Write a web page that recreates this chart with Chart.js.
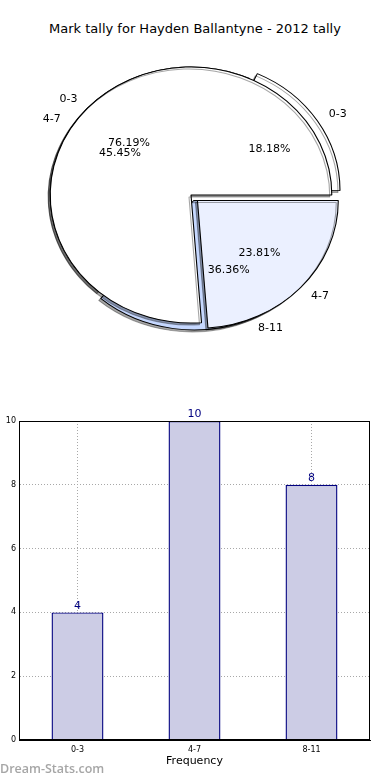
<!DOCTYPE html>
<html>
<head>
<meta charset="utf-8">
<script src="https://cdn.jsdelivr.net/npm/chart.js@4"></script>
<style>
body { margin: 0; background: #fff; }
#wrap { position: relative; width: 390px; height: 780px; overflow: hidden; font-family: 'DejaVu Sans', sans-serif; }
#title { position: absolute; left: 0; top: 21px; width: 390px; text-align: center; font-size: 13px; color: #000; }
.layer { position: absolute; left: 0; }
#mark { position: absolute; left: 0; top: 760px; font: 600 12.5px 'Open Sans', sans-serif; color: #a6a6a6; }
</style>
</head>
<body>
<div id="wrap">
  <div id="title">Mark tally for Hayden Ballantyne - 2012 tally</div>
  <canvas id="pieBack" class="layer" style="top:0" width="390" height="360"></canvas>
  <canvas id="pieFront" class="layer" style="top:0" width="390" height="360"></canvas>
  <canvas id="bars" class="layer" style="top:400px" width="390" height="380"></canvas>
  <div id="mark">Dream-Stats.com</div>
</div>
<script>
// two overlaid pies, as in the original image
var frontLabels = ['0-3', '4-7'];
var frontValues = [16, 5];
var backLabels = ['0-3', '4-7', '8-11'];
var backValues = [4, 10, 8];

var barLabels = ['0-3', '4-7', '8-11'];
var barValues = [4, 10, 8];

var SX = 1.1; // pie is drawn a bit wider than tall
var FONT = "'DejaVu Sans', sans-serif";

// chart.js goes clockwise from the top, the original goes the other way from 3 o'clock
function rev(a) { return a.slice().reverse(); }

var squash = {
    id: 'squash',
    beforeDatasetsDraw: function(chart) {
        var a = chart.getDatasetMeta(0).data[0];
        var c = chart.ctx;
        c.save();
        c.translate(a.x, a.y);
        c.scale(SX, 1);
        c.translate(-a.x, -a.y);
        c.shadowColor = 'rgba(0,0,0,0.35)';
        c.shadowOffsetX = -2;
        c.shadowOffsetY = 2;
    },
    afterDatasetsDraw: function(chart) {
        chart.ctx.restore();
    }
};

function pieText(chart, c) {
    var meta = chart.getDatasetMeta(0);
    var ds = chart.data.datasets[0];
    var total = ds.data.reduce(function(s, v) { return s + v; }, 0);
    c.save();
    c.font = '11px ' + FONT;
    c.fillStyle = '#000';
    c.textBaseline = 'middle';
    meta.data.forEach(function(arc, i) {
        var mid = (arc.startAngle + arc.endAngle) / 2;
        var t = (ds.offset[i] || 0) / 4;
        var r = arc.outerRadius;
        var cs = Math.cos(mid), sn = Math.sin(mid);
        var bx = arc.x + cs * t, by = arc.y + sn * t;
        var px = arc.x + (bx + cs * r * 0.6 - arc.x) * SX;
        var py = by + sn * r * 0.6;
        c.textAlign = 'center';
        c.fillText((ds.data[i] / total * 100).toFixed(2) + '%', px, py);
        var lx = arc.x + (bx + cs * r * 1.1 - arc.x) * SX;
        var ly = by + sn * r * 1.1;
        c.textAlign = cs >= 0 ? 'left' : 'right';
        c.fillText(chart.data.labels[i], lx, ly);
    });
    c.restore();
}

function pieOptions() {
    return {
        responsive: false,
        animation: false,
        devicePixelRatio: 1,
        rotation: 90,
        layout: { padding: { left: 46.5, right: 54.5, top: 50.5, bottom: 20.5 } },
        plugins: { legend: { display: false }, tooltip: { enabled: false } }
    };
}

var backChart = new Chart(document.getElementById('pieBack'), {
    type: 'pie',
    data: {
        labels: rev(backLabels),
        datasets: [{
            data: rev(backValues),
            backgroundColor: rev(['#ffffff', '#ffffff', '#c6d8ff']),
            borderColor: '#000',
            borderWidth: 1,
            offset: rev([32, 0, 24])
        }]
    },
    options: pieOptions(),
    plugins: [squash]
});

new Chart(document.getElementById('pieFront'), {
    type: 'pie',
    data: {
        labels: rev(frontLabels),
        datasets: [{
            data: rev(frontValues),
            backgroundColor: rev(['#ffffff', '#ebf0ff']),
            borderColor: '#000',
            borderWidth: 1,
            offset: rev([0, 32])
        }]
    },
    options: pieOptions(),
    plugins: [squash, {
        id: 'pieText',
        afterDraw: function(chart) {
            pieText(backChart, chart.ctx);
            pieText(chart, chart.ctx);
        }
    }]
});

var frame = {
    id: 'frame',
    afterDraw: function(chart) {
        var a = chart.chartArea, c = chart.ctx;
        c.save();
        c.strokeStyle = '#000';
        c.lineWidth = 1;
        c.strokeRect(Math.round(a.left) + 0.5, Math.round(a.top) + 0.5,
            Math.round(a.right - a.left) - 1, Math.round(a.bottom - a.top) - 1);
        // counts over the bars
        var meta = chart.getDatasetMeta(0);
        c.fillStyle = '#000080';
        c.font = '11px ' + FONT;
        c.textAlign = 'center';
        c.textBaseline = 'bottom';
        meta.data.forEach(function(bar, i) {
            c.fillText(barValues[i], bar.x, bar.y - 1);
        });
        c.restore();
    }
};

new Chart(document.getElementById('bars'), {
    type: 'bar',
    data: {
        labels: barLabels,
        datasets: [{
            data: barValues,
            backgroundColor: '#ccccE5',
            borderColor: '#000080',
            borderWidth: 1.4,
            barPercentage: 0.444,
            categoryPercentage: 1
        }]
    },
    options: {
        responsive: false,
        animation: false,
        devicePixelRatio: 1,
        layout: { padding: { left: 0, right: 20, top: 21, bottom: 0 } },
        plugins: { legend: { display: false }, tooltip: { enabled: false } },
        scales: {
            x: {
                z: 1,
                grid: { offset: false, color: '#a8a8a8', drawTicks: false },
                border: { color: '#000', dash: [1, 2] },
                ticks: { color: '#000', padding: 5, font: { size: 8, family: FONT } },
                title: { display: true, text: 'Frequency', color: '#000', font: { size: 11, family: FONT }, padding: { top: 0, bottom: 12 } },
                afterFit: function(s) { s.height = 40; }
            },
            y: {
                z: 1,
                min: 0,
                max: 10,
                grid: { color: '#a8a8a8', drawTicks: false },
                border: { color: '#000', dash: [1, 2] },
                ticks: { stepSize: 2, color: '#000', padding: 3, font: { size: 8, family: FONT } },
                afterFit: function(s) { s.width = 19; }
            }
        }
    },
    plugins: [frame]
});
</script>
</body>
</html>
